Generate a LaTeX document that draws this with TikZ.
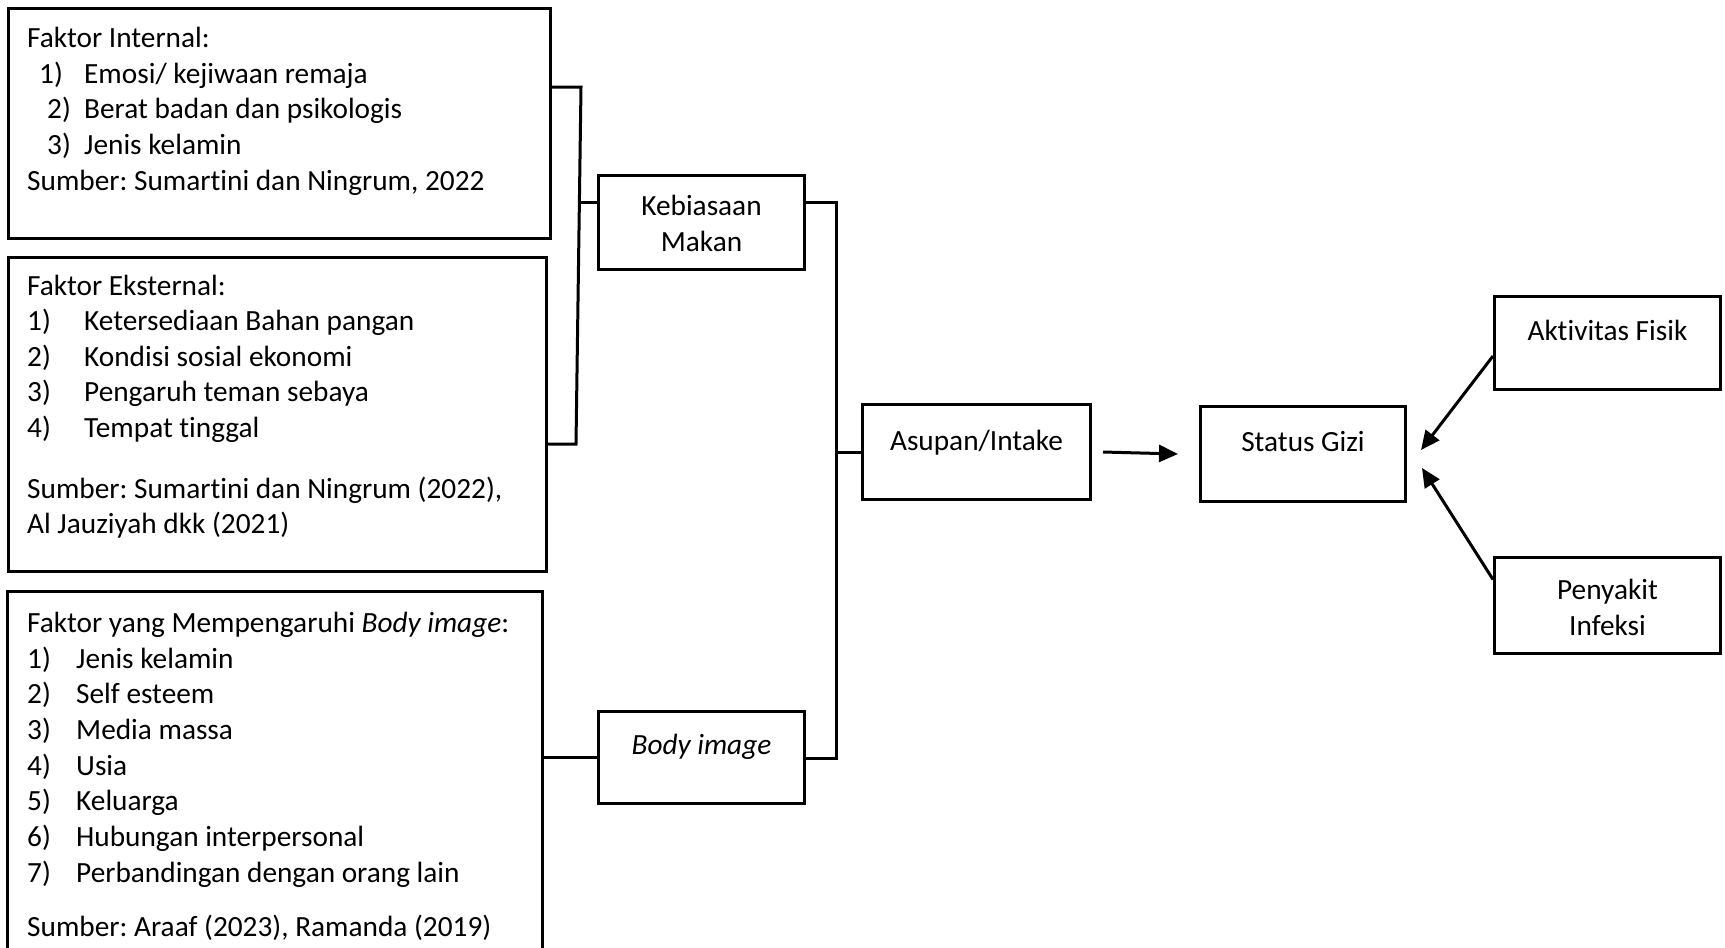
\documentclass[tikz,border=0pt]{standalone}
\usepackage{fontspec}
\setmainfont{Carlito}[Ligatures={NoCommon,NoContextual,NoRequired},RawFeature={-liga;-clig;-calt}]
\usetikzlibrary{arrows.meta,calc}
\begin{document}
\frenchspacing
\begin{tikzpicture}[x=1pt,y=-1pt,
  box/.style={draw, line width=3pt, inner sep=0pt, anchor=north west},
  openbox/.style={inner sep=0pt, anchor=north west},
  txt/.style={inner sep=0pt, anchor=base west, font=\frenchspacing\fontsize{29.3pt}{35.7pt}\selectfont},
  ctxt/.style={inner sep=0pt, anchor=base, font=\frenchspacing\fontsize{29.3pt}{35.7pt}\selectfont},
  con/.style={line width=3pt},
  arr/.style={line width=3pt, -{Triangle[length=19pt,width=17pt]}}]
\fill[white] (0,0) rectangle (1725,948);
\useasboundingbox (0,0) rectangle (1725,948);

% left boxes
\node[box, minimum width=542pt, minimum height=230pt] (b1) at (7,7) {};
\node[box, minimum width=538pt, minimum height=314pt] (b2) at (7,256) {};
\node[openbox, minimum width=535pt, minimum height=357pt] (b3) at (7,591) {};
\draw[con] (b3.south west) -- (b3.north west) -- (b3.north east) -- (b3.south east);

% box 1 text
\node[txt] (b1h) at (27,47) {Faktor Internal:};
\node[txt] (b1n1) at (39,83) {1)};
\node[txt] (b1t1) at (84,83) {Emosi/ kejiwaan remaja};
\node[txt] (b1n2) at (47,118) {2)};
\node[txt] (b1t2) at (84,118) {Berat badan dan psikologis};
\node[txt] (b1n3) at (47,154) {3)};
\node[txt] (b1t3) at (84,154) {Jenis kelamin};
\node[txt] (b1s) at (27,190) {Sumber: Sumartini dan Ningrum, 2022};

% box 2 text
\node[txt] (b2h) at (27,295) {Faktor Eksternal:};
\node[txt] (b2n1) at (27,330) {1)};
\node[txt] (b2t1) at (84,330) {Ketersediaan Bahan pangan};
\node[txt] (b2n2) at (27,366) {2)};
\node[txt] (b2t2) at (84,366) {Kondisi sosial ekonomi};
\node[txt] (b2n3) at (27,401) {3)};
\node[txt] (b2t3) at (84,401) {Pengaruh teman sebaya};
\node[txt] (b2n4) at (27,437) {4)};
\node[txt] (b2t4) at (84,437) {Tempat tinggal};
\node[txt] (b2s1) at (27,498) {Sumber: Sumartini dan Ningrum (2022),};
\node[txt] (b2s2) at (27,533) {Al Jauziyah dkk (2021)};

% box 3 text
\node[txt] (b3h) at (27,632) {Faktor yang Mempengaruhi \textit{Body image}:};
\node[txt] (b3n1) at (27,668) {1)};
\node[txt] (b3t1) at (76,668) {Jenis kelamin};
\node[txt] (b3n2) at (27,703) {2)};
\node[txt] (b3t2) at (76,703) {Self esteem};
\node[txt] (b3n3) at (27,739) {3)};
\node[txt] (b3t3) at (76,739) {Media massa};
\node[txt] (b3n4) at (27,775) {4)};
\node[txt] (b3t4) at (76,775) {Usia};
\node[txt] (b3n5) at (27,810) {5)};
\node[txt] (b3t5) at (76,810) {Keluarga};
\node[txt] (b3n6) at (27,846) {6)};
\node[txt] (b3t6) at (76,846) {Hubungan interpersonal};
\node[txt] (b3n7) at (27,882) {7)};
\node[txt] (b3t7) at (76,882) {Perbandingan dengan orang lain};
\node[txt] (b3s) at (27,936) {Sumber: Araaf (2023), Ramanda (2019)};

% middle and right boxes
\node[box, minimum width=206pt, minimum height=94pt] (keb) at (597,174) {};
\node[box, minimum width=206pt, minimum height=92pt] (body) at (597,710) {};
\node[box, minimum width=228pt, minimum height=95pt] (asu) at (861,403) {};
\node[box, minimum width=205pt, minimum height=95pt] (sg) at (1199,405) {};
\node[box, minimum width=226pt, minimum height=93pt] (akt) at (1493,295) {};
\node[box, minimum width=226pt, minimum height=96pt] (pen) at (1493,556) {};

\node[ctxt] (kebt1) at ($(keb.north)+(0,41)$) {Kebiasaan};
\node[ctxt] (kebt2) at ($(keb.north)+(0,77)$) {Makan};
\node[ctxt] (bodyt) at ($(body.north)+(0,44)$) {\textit{Body image}};
\node[ctxt] (asut) at ($(asu.north)+(0,47)$) {Asupan/Intake};
\node[ctxt] (sgt) at ($(sg.north)+(0,46)$) {Status Gizi};
\node[ctxt] (aktt) at ($(akt.north)+(0,45)$) {Aktivitas Fisik};
\node[ctxt] (pent1) at ($(pen.north)+(0,43)$) {Penyakit};
\node[ctxt] (pent2) at ($(pen.north)+(0,79)$) {Infeksi};

% connectors
\coordinate (jA) at (581,87);
\coordinate (jB) at (576,444);
\coordinate (jK) at (578,202);
\draw[con] (b1.east |- jA) -- (jA) -- (jB) -- (b2.east |- jB);
\draw[con] (jK) -- (keb.west |- jK);
\draw[con] (b3.east |- body.west) -- (body.west);
\coordinate (jR1) at (836,202);
\coordinate (jR2) at (836,758);
\draw[con] (keb.east |- jR1) -- (jR1) -- (jR2) -- (body.east |- jR2);
\draw[con] (jR1 |- asu.west) -- (asu.west);

\draw[arr] ([xshift=11pt]asu.east) -- ([xshift=-21pt]sg.west);
\draw[arr] ([yshift=-13pt]akt.west) -- ([shift={(14,-4)}]sg.east);
\draw[arr] ([yshift=26pt]pen.west) -- ([shift={(15,14)}]sg.east);
\end{tikzpicture}
\end{document}
